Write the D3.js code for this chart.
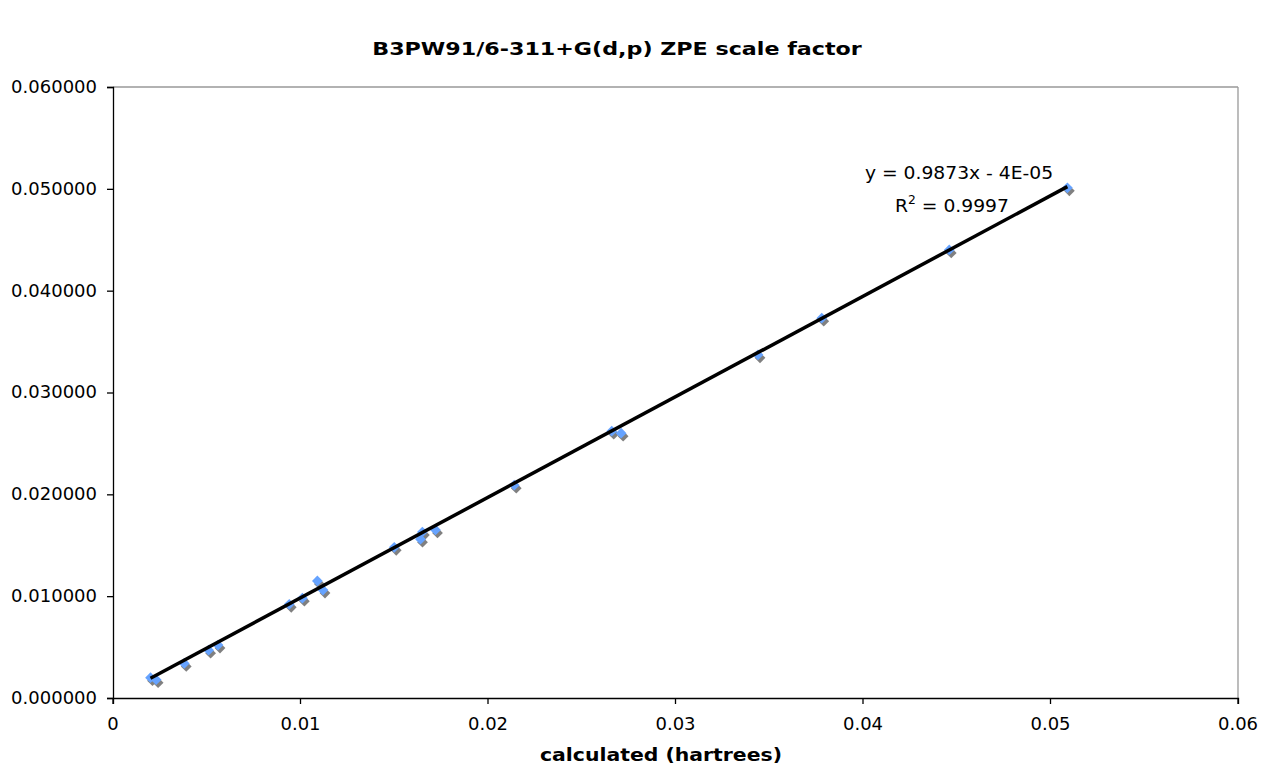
<!DOCTYPE html>
<html><head><meta charset="utf-8">
<script src="https://cdn.jsdelivr.net/npm/d3@7"></script>
<style>body{margin:0;background:#fff}svg{display:block}</style>
</head><body>
<svg id="c" width="1261" height="766"></svg>
<script>
const calcX = [0.0020,0.0023,0.0038,0.0051,0.0056,0.0094,0.0101,0.0109,0.0112,0.0150,0.0164,0.0165,0.0172,0.0214,0.0266,0.0271,0.0344,0.0378,0.0446,0.0509];
const exptY = [0.0020,0.0018,0.0034,0.0047,0.0052,0.0092,0.0098,0.0115,0.0106,0.0148,0.0156,0.0163,0.0165,0.0209,0.0262,0.0260,0.0337,0.0373,0.0440,0.0501];
const xTicks = [0,0.01,0.02,0.03,0.04,0.05,0.06];
const yTicks = [0,0.01,0.02,0.03,0.04,0.05,0.06];
const slope = 0.9873, intercept = -0.00004;
const titleText = "B3PW91/6-311+G(d,p) ZPE scale factor";
const xTitle = "calculated (hartrees)";

const svg = d3.select("#c");
const L=113, R=1238, T=87, B=698;
const x = d3.scaleLinear().domain([0,0.06]).range([L,R]);
const y = d3.scaleLinear().domain([0,0.06]).range([B,T]);
const font = "'DejaVu Sans', Verdana, sans-serif";

svg.append("line").attr("x1",L).attr("x2",R).attr("y1",T).attr("y2",T).attr("stroke","#999").attr("stroke-width",1.3);
svg.append("line").attr("x1",R).attr("x2",R).attr("y1",T).attr("y2",B).attr("stroke","#999").attr("stroke-width",1.3);

const xa = svg.append("g").attr("transform",`translate(0,${B})`)
  .call(d3.axisBottom(x).tickValues(xTicks).tickSize(6).tickPadding(14).tickFormat(d=>d===0?"0":d3.format(".2~f")(d)));
const ya = svg.append("g").attr("transform",`translate(${L},0)`)
  .call(d3.axisLeft(y).tickValues(yTicks).tickSize(6).tickPadding(10).tickFormat(d3.format(".6f")));
[xa,ya].forEach(a=>{
  a.selectAll("path").attr("stroke","#000").attr("stroke-width",1.3);
  a.selectAll("line").attr("stroke","#000").attr("stroke-width",1.3);
  a.selectAll("text").attr("font-family",font).attr("font-size",17).attr("fill","#000")
    .attr("textLength",null);
});
// widen tick labels slightly (Verdana-like)
ya.selectAll(".tick text").attr("transform","scale(1.06,1)").attr("x",function(){return -16/1.06;});
xa.selectAll(".tick text").attr("transform","scale(1.06,1)");
xa.selectAll(".tick").each(function(d){
  d3.select(this).attr("transform",`translate(${x(d)},0)`);
});

const dia = d3.symbol().type(d3.symbolSquare).size(58);
const pts = calcX.map((v,i)=>[v,exptY[i]]);
svg.append("g").selectAll("path").data(pts).join("path")
  .attr("d",dia).attr("transform",d=>`translate(${x(d[0])+2},${y(d[1])+3}) rotate(45)`).attr("fill","#808080");
svg.append("g").selectAll("path").data(pts).join("path")
  .attr("d",dia).attr("transform",d=>`translate(${x(d[0])},${y(d[1])}) rotate(45)`).attr("fill","#66a3ff");

const x0 = d3.min(calcX), x1 = d3.max(calcX);
svg.append("line").attr("x1",x(x0)).attr("y1",y(slope*x0+intercept)).attr("x2",x(x1)).attr("y2",y(slope*x1+intercept))
  .attr("stroke","#000").attr("stroke-width",3.5);

function wide(sel, cx, s){ sel.attr("x",cx/s).attr("transform",`scale(${s},1)`); return sel; }

wide(svg.append("text").attr("y",179).attr("text-anchor","middle").attr("font-family",font).attr("font-size",17.5).text("y = 0.9873x - 4E-05"),959,1.07);
const r2 = wide(svg.append("text").attr("y",212).attr("text-anchor","middle").attr("font-family",font).attr("font-size",17.5),952,1.07);
r2.append("tspan").text("R");
r2.append("tspan").attr("dy",-8).attr("font-size",11.5).text("2");
r2.append("tspan").attr("dy",8).text(" = 0.9997");

wide(svg.append("text").attr("y",55).attr("text-anchor","middle").attr("font-family",font).attr("font-weight","bold").attr("font-size",18.5).text(titleText),617,1.2);
wide(svg.append("text").attr("y",761).attr("text-anchor","middle").attr("font-family",font).attr("font-weight","bold").attr("font-size",17).text(xTitle),661,1.2);
</script>
</body></html>
